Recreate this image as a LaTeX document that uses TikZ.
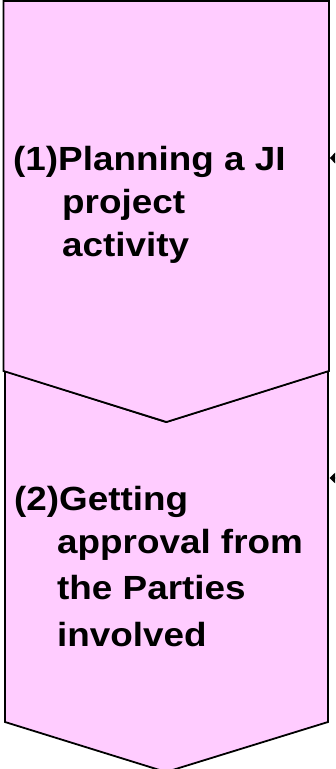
\documentclass[tikz,border=0pt]{standalone}
\usepackage{fontspec}
\newfontfamily\lab[FakeStretch=1.1]{Liberation Sans}
\usetikzlibrary{arrows.meta}
\definecolor{chevpink}{HTML}{FFCCFF}
\tikzset{
  chevron/.style={draw=black, fill=chevpink, line width=1.8pt, line join=miter},
  txt/.style={anchor=base west, inner sep=0pt, font=\lab\bfseries\fontsize{33.5}{43}\selectfont},
  inarrow/.style={line width=1.5pt},
}
\begin{document}
\begin{tikzpicture}[x=1pt,y=-1pt]
\useasboundingbox (0,0) rectangle (335,769);
\begin{scope}
\clip (0,0) rectangle (335,769);
% step 2 chevron (drawn first, lies under step 1)
\draw[chevron] (5,371) -- (166,422) -- (328,371) -- (328,722) -- (166,772) -- (5,722) -- cycle;
% step 1 chevron
\draw[chevron] (3.5,1) -- (329,1) -- (329,371) -- (166.5,422) -- (3.5,371) -- cycle;
% incoming arrows from the right (cut off at the edge)
\coordinate (in1) at (330,158);
\coordinate (src1) at (370,158);
\coordinate (in2) at (329.5,478);
\coordinate (src2) at (370,478);
\draw[inarrow, -{Triangle[length=7pt,width=15pt]}] (src1) -- (in1);
\draw[inarrow, -{Triangle[length=6pt,width=11pt]}] (src2) -- (in2);
\end{scope}
% texts
\node[txt] (t1a) at (13,170) {(1)Planning a JI};
\node[txt] (t1b) at (62,213) {project};
\node[txt] (t1c) at (62,256) {activity};
\node[txt] (t2a) at (14,510) {(2)Getting};
\node[txt] (t2b) at (57,553) {approval from};
\node[txt] (t2c) at (57,599) {the Parties};
\node[txt] (t2d) at (57,646) {involved};
\end{tikzpicture}
\end{document}
